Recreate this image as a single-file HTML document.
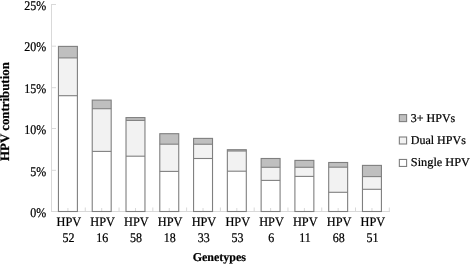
<!DOCTYPE html>
<html><head><meta charset="utf-8"><style>
html,body{margin:0;padding:0;background:#fff;}
body{width:472px;height:265px;overflow:hidden;}
svg{display:block;filter:grayscale(100%);}
text{text-rendering:geometricPrecision;stroke:#000;stroke-width:0.22px;}
.t{font-family:"Liberation Serif",serif;font-size:12px;fill:#000;}
.b{font-family:"Liberation Serif",serif;font-size:12px;font-weight:bold;fill:#000;}
.bt{font-family:"Liberation Serif",serif;font-size:12.87px;font-weight:bold;fill:#000;}
</style></head><body>
<svg width="472" height="265" viewBox="0 0 472 265">
<rect width="472" height="265" fill="#fff"/>
<line x1="51.5" y1="4" x2="51.5" y2="211.5" stroke="#d9d9d9" stroke-width="1"/>
<line x1="51.0" y1="211.5" x2="390" y2="211.5" stroke="#d9d9d9" stroke-width="1"/>
<line x1="51.5" y1="211.50" x2="56.0" y2="211.50" stroke="#d9d9d9" stroke-width="1"/>
<line x1="51.5" y1="170.30" x2="56.0" y2="170.30" stroke="#d9d9d9" stroke-width="1"/>
<line x1="51.5" y1="128.50" x2="56.0" y2="128.50" stroke="#d9d9d9" stroke-width="1"/>
<line x1="51.5" y1="87.70" x2="56.0" y2="87.70" stroke="#d9d9d9" stroke-width="1"/>
<line x1="51.5" y1="46.20" x2="56.0" y2="46.20" stroke="#d9d9d9" stroke-width="1"/>
<line x1="51.5" y1="4.50" x2="56.0" y2="4.50" stroke="#d9d9d9" stroke-width="1"/>
<line x1="51.50" y1="207.5" x2="51.50" y2="211.5" stroke="#d9d9d9" stroke-width="1"/>
<line x1="85.28" y1="207.5" x2="85.28" y2="211.5" stroke="#d9d9d9" stroke-width="1"/>
<line x1="119.06" y1="207.5" x2="119.06" y2="211.5" stroke="#d9d9d9" stroke-width="1"/>
<line x1="152.84" y1="207.5" x2="152.84" y2="211.5" stroke="#d9d9d9" stroke-width="1"/>
<line x1="186.62" y1="207.5" x2="186.62" y2="211.5" stroke="#d9d9d9" stroke-width="1"/>
<line x1="220.40" y1="207.5" x2="220.40" y2="211.5" stroke="#d9d9d9" stroke-width="1"/>
<line x1="254.18" y1="207.5" x2="254.18" y2="211.5" stroke="#d9d9d9" stroke-width="1"/>
<line x1="287.96" y1="207.5" x2="287.96" y2="211.5" stroke="#d9d9d9" stroke-width="1"/>
<line x1="321.74" y1="207.5" x2="321.74" y2="211.5" stroke="#d9d9d9" stroke-width="1"/>
<line x1="355.52" y1="207.5" x2="355.52" y2="211.5" stroke="#d9d9d9" stroke-width="1"/>
<line x1="389.30" y1="207.5" x2="389.30" y2="211.5" stroke="#d9d9d9" stroke-width="1"/>
<line x1="67.92" y1="208.0" x2="67.92" y2="211.5" stroke="#d9d9d9" stroke-width="1"/>
<rect x="58.45" y="46.4" width="18.95" height="11.50" fill="#bfbfbf"/>
<rect x="58.45" y="57.9" width="18.95" height="37.80" fill="#f2f2f2"/>
<rect x="58.45" y="46.4" width="18.95" height="165.10" fill="none" stroke="#7f7f7f" stroke-width="1.1"/>
<line x1="58.45" y1="57.9" x2="77.40" y2="57.9" stroke="#7f7f7f" stroke-width="1.1"/>
<line x1="58.45" y1="95.7" x2="77.40" y2="95.7" stroke="#7f7f7f" stroke-width="1.1"/>
<text transform="translate(68.83,226.1) scale(1,1.05)" text-anchor="middle" class="t" style="font-size:12.3px">HPV</text>
<text transform="translate(68.52,241.8) scale(1,1.1)" text-anchor="middle" class="t">52</text>
<line x1="101.70" y1="208.0" x2="101.70" y2="211.5" stroke="#d9d9d9" stroke-width="1"/>
<rect x="92.23" y="100.1" width="18.95" height="8.60" fill="#bfbfbf"/>
<rect x="92.23" y="108.7" width="18.95" height="42.70" fill="#f2f2f2"/>
<rect x="92.23" y="100.1" width="18.95" height="111.40" fill="none" stroke="#7f7f7f" stroke-width="1.1"/>
<line x1="92.23" y1="108.7" x2="111.18" y2="108.7" stroke="#7f7f7f" stroke-width="1.1"/>
<line x1="92.23" y1="151.4" x2="111.18" y2="151.4" stroke="#7f7f7f" stroke-width="1.1"/>
<text transform="translate(102.61,226.1) scale(1,1.05)" text-anchor="middle" class="t" style="font-size:12.3px">HPV</text>
<text transform="translate(102.30,241.8) scale(1,1.1)" text-anchor="middle" class="t">16</text>
<line x1="135.49" y1="208.0" x2="135.49" y2="211.5" stroke="#d9d9d9" stroke-width="1"/>
<rect x="126.01" y="117.6" width="18.95" height="2.80" fill="#bfbfbf"/>
<rect x="126.01" y="120.4" width="18.95" height="35.80" fill="#f2f2f2"/>
<rect x="126.01" y="117.6" width="18.95" height="93.90" fill="none" stroke="#7f7f7f" stroke-width="1.1"/>
<line x1="126.01" y1="120.4" x2="144.96" y2="120.4" stroke="#7f7f7f" stroke-width="1.1"/>
<line x1="126.01" y1="156.2" x2="144.96" y2="156.2" stroke="#7f7f7f" stroke-width="1.1"/>
<text transform="translate(136.39,226.1) scale(1,1.05)" text-anchor="middle" class="t" style="font-size:12.3px">HPV</text>
<text transform="translate(136.09,241.8) scale(1,1.1)" text-anchor="middle" class="t">58</text>
<line x1="169.27" y1="208.0" x2="169.27" y2="211.5" stroke="#d9d9d9" stroke-width="1"/>
<rect x="159.79" y="133.7" width="18.95" height="10.50" fill="#bfbfbf"/>
<rect x="159.79" y="144.2" width="18.95" height="27.20" fill="#f2f2f2"/>
<rect x="159.79" y="133.7" width="18.95" height="77.80" fill="none" stroke="#7f7f7f" stroke-width="1.1"/>
<line x1="159.79" y1="144.2" x2="178.74" y2="144.2" stroke="#7f7f7f" stroke-width="1.1"/>
<line x1="159.79" y1="171.4" x2="178.74" y2="171.4" stroke="#7f7f7f" stroke-width="1.1"/>
<text transform="translate(170.17,226.1) scale(1,1.05)" text-anchor="middle" class="t" style="font-size:12.3px">HPV</text>
<text transform="translate(169.87,241.8) scale(1,1.1)" text-anchor="middle" class="t">18</text>
<line x1="203.04" y1="208.0" x2="203.04" y2="211.5" stroke="#d9d9d9" stroke-width="1"/>
<rect x="193.57" y="138.4" width="18.95" height="5.85" fill="#bfbfbf"/>
<rect x="193.57" y="144.25" width="18.95" height="14.25" fill="#f2f2f2"/>
<rect x="193.57" y="138.4" width="18.95" height="73.10" fill="none" stroke="#7f7f7f" stroke-width="1.1"/>
<line x1="193.57" y1="144.25" x2="212.52" y2="144.25" stroke="#7f7f7f" stroke-width="1.1"/>
<line x1="193.57" y1="158.5" x2="212.52" y2="158.5" stroke="#7f7f7f" stroke-width="1.1"/>
<text transform="translate(203.94,226.1) scale(1,1.05)" text-anchor="middle" class="t" style="font-size:12.3px">HPV</text>
<text transform="translate(203.64,241.8) scale(1,1.1)" text-anchor="middle" class="t">33</text>
<line x1="236.83" y1="208.0" x2="236.83" y2="211.5" stroke="#d9d9d9" stroke-width="1"/>
<rect x="227.35" y="149.7" width="18.95" height="1.30" fill="#bfbfbf"/>
<rect x="227.35" y="151.0" width="18.95" height="20.20" fill="#f2f2f2"/>
<rect x="227.35" y="149.7" width="18.95" height="61.80" fill="none" stroke="#7f7f7f" stroke-width="1.1"/>
<line x1="227.35" y1="151.0" x2="246.30" y2="151.0" stroke="#7f7f7f" stroke-width="1.1"/>
<line x1="227.35" y1="171.2" x2="246.30" y2="171.2" stroke="#7f7f7f" stroke-width="1.1"/>
<text transform="translate(237.73,226.1) scale(1,1.05)" text-anchor="middle" class="t" style="font-size:12.3px">HPV</text>
<text transform="translate(237.43,241.8) scale(1,1.1)" text-anchor="middle" class="t">53</text>
<line x1="270.61" y1="208.0" x2="270.61" y2="211.5" stroke="#d9d9d9" stroke-width="1"/>
<rect x="261.13" y="158.5" width="18.95" height="8.80" fill="#bfbfbf"/>
<rect x="261.13" y="167.3" width="18.95" height="13.10" fill="#f2f2f2"/>
<rect x="261.13" y="158.5" width="18.95" height="53.00" fill="none" stroke="#7f7f7f" stroke-width="1.1"/>
<line x1="261.13" y1="167.3" x2="280.08" y2="167.3" stroke="#7f7f7f" stroke-width="1.1"/>
<line x1="261.13" y1="180.4" x2="280.08" y2="180.4" stroke="#7f7f7f" stroke-width="1.1"/>
<text transform="translate(271.50,226.1) scale(1,1.05)" text-anchor="middle" class="t" style="font-size:12.3px">HPV</text>
<text transform="translate(271.21,241.8) scale(1,1.1)" text-anchor="middle" class="t">6</text>
<line x1="304.39" y1="208.0" x2="304.39" y2="211.5" stroke="#d9d9d9" stroke-width="1"/>
<rect x="294.91" y="160.4" width="18.95" height="6.90" fill="#bfbfbf"/>
<rect x="294.91" y="167.3" width="18.95" height="9.10" fill="#f2f2f2"/>
<rect x="294.91" y="160.4" width="18.95" height="51.10" fill="none" stroke="#7f7f7f" stroke-width="1.1"/>
<line x1="294.91" y1="167.3" x2="313.86" y2="167.3" stroke="#7f7f7f" stroke-width="1.1"/>
<line x1="294.91" y1="176.4" x2="313.86" y2="176.4" stroke="#7f7f7f" stroke-width="1.1"/>
<text transform="translate(305.29,226.1) scale(1,1.05)" text-anchor="middle" class="t" style="font-size:12.3px">HPV</text>
<text transform="translate(304.99,241.8) scale(1,1.1)" text-anchor="middle" class="t">11</text>
<line x1="338.17" y1="208.0" x2="338.17" y2="211.5" stroke="#d9d9d9" stroke-width="1"/>
<rect x="328.69" y="162.5" width="18.95" height="4.70" fill="#bfbfbf"/>
<rect x="328.69" y="167.2" width="18.95" height="25.10" fill="#f2f2f2"/>
<rect x="328.69" y="162.5" width="18.95" height="49.00" fill="none" stroke="#7f7f7f" stroke-width="1.1"/>
<line x1="328.69" y1="167.2" x2="347.64" y2="167.2" stroke="#7f7f7f" stroke-width="1.1"/>
<line x1="328.69" y1="192.3" x2="347.64" y2="192.3" stroke="#7f7f7f" stroke-width="1.1"/>
<text transform="translate(339.06,226.1) scale(1,1.05)" text-anchor="middle" class="t" style="font-size:12.3px">HPV</text>
<text transform="translate(338.77,241.8) scale(1,1.1)" text-anchor="middle" class="t">68</text>
<line x1="371.94" y1="208.0" x2="371.94" y2="211.5" stroke="#d9d9d9" stroke-width="1"/>
<rect x="362.47" y="165.4" width="18.95" height="11.20" fill="#bfbfbf"/>
<rect x="362.47" y="176.6" width="18.95" height="12.70" fill="#f2f2f2"/>
<rect x="362.47" y="165.4" width="18.95" height="46.10" fill="none" stroke="#7f7f7f" stroke-width="1.1"/>
<line x1="362.47" y1="176.6" x2="381.42" y2="176.6" stroke="#7f7f7f" stroke-width="1.1"/>
<line x1="362.47" y1="189.3" x2="381.42" y2="189.3" stroke="#7f7f7f" stroke-width="1.1"/>
<text transform="translate(372.84,226.1) scale(1,1.05)" text-anchor="middle" class="t" style="font-size:12.3px">HPV</text>
<text transform="translate(372.55,241.8) scale(1,1.1)" text-anchor="middle" class="t">51</text>
<text transform="translate(46.3,217.25) scale(1,1.1)" text-anchor="end" class="t">0%</text>
<text transform="translate(46.3,176.00) scale(1,1.1)" text-anchor="end" class="t">5%</text>
<text transform="translate(46.3,133.60) scale(1,1.1)" text-anchor="end" class="t">10%</text>
<text transform="translate(46.3,92.75) scale(1,1.1)" text-anchor="end" class="t">15%</text>
<text transform="translate(46.3,50.70) scale(1,1.1)" text-anchor="end" class="t">20%</text>
<text transform="translate(46.3,10.00) scale(1,1.1)" text-anchor="end" class="t">25%</text>
<text transform="translate(9.2,111.55) rotate(-90)" text-anchor="middle" class="bt">HPV contribution</text>
<text x="219.3" y="260.9" text-anchor="middle" class="b">Genetypes</text>
<rect x="399.35" y="114.6" width="7.25" height="7.0" fill="#bfbfbf" stroke="#7f7f7f" stroke-width="1.1"/>
<text x="410.8" y="121.90" class="t">3+ HPVs</text>
<rect x="399.35" y="137.0" width="7.25" height="7.0" fill="#f2f2f2" stroke="#7f7f7f" stroke-width="1.1"/>
<text x="410.8" y="144.10" class="t">Dual HPVs</text>
<rect x="399.35" y="159.45" width="7.25" height="7.0" fill="#ffffff" stroke="#7f7f7f" stroke-width="1.1"/>
<text x="410.8" y="166.40" class="t" textLength="59.2" lengthAdjust="spacingAndGlyphs">Single HPV</text>
</svg>
</body></html>
